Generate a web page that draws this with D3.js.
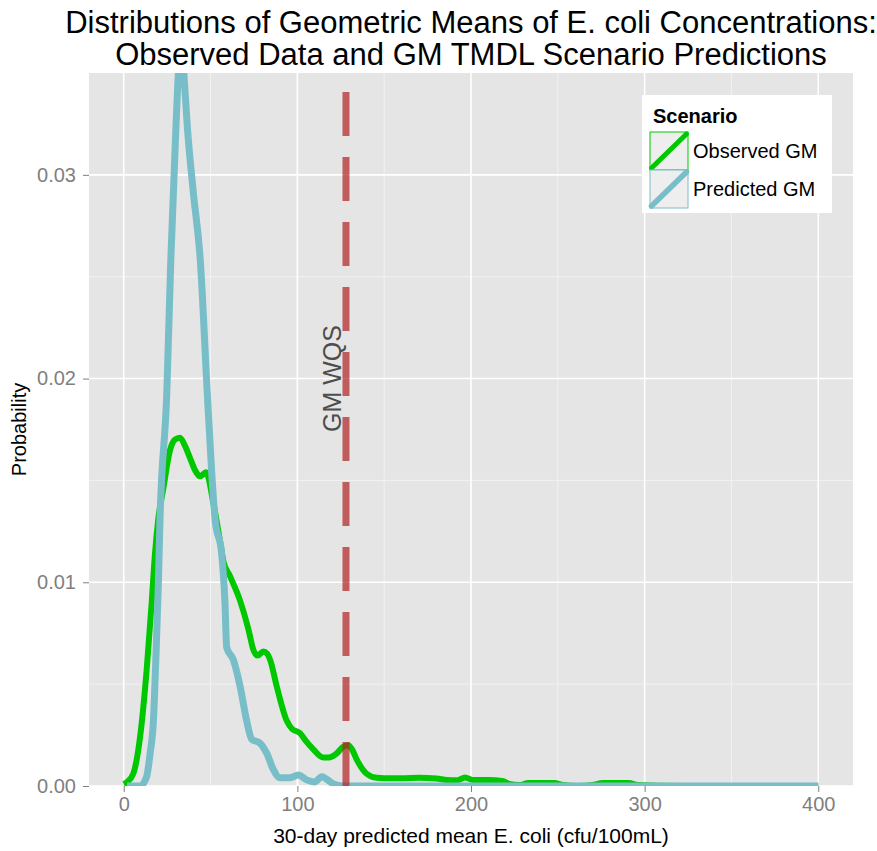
<!DOCTYPE html>
<html>
<head>
<meta charset="utf-8">
<script src="https://cdn.jsdelivr.net/npm/d3@7"></script>
<style>
  html, body { margin: 0; padding: 0; background: #ffffff; }
  svg { display: block; font-family: "Liberation Sans", Arial, Helvetica, sans-serif; }
</style>
</head>
<body>
<svg id="chart" width="877" height="851"></svg>
<script>
// ---- data -------------------------------------------------------------
const titleLines = [
  "Distributions of Geometric Means of E. coli Concentrations:",
  "Observed Data and GM TMDL Scenario Predictions"
];
const xLabel = "30-day predicted mean E. coli (cfu/100mL)";
const yLabel = "Probability";

const xTicks = [0, 100, 200, 300, 400];
const xMinor = [50, 150, 250, 350];
const yTicks = [0, 0.01, 0.02, 0.03];
const yMinor = [0.005, 0.015, 0.025];
const yTickLabels = ["0.00", "0.01", "0.02", "0.03"];

const seriesNames = ["Observed GM", "Predicted GM"];
const seriesColors = ["#00c800", "#78bec9"];

// Observed GM curve
const observedX = [0, 2, 5.5, 9.4, 13.2, 16.1, 18.0, 19.9, 22.8, 26.7, 29.5, 32.4, 35.3, 38.2,
  41.1, 43.9, 47.4, 51.6, 55.5, 57.5, 61.2, 67, 71.8, 74.6, 77, 80.4, 82.5, 84.3, 88.1, 93.9,
  97, 101.5, 105, 109.2, 114.9, 118, 122.7, 126, 129.3, 131.5, 134.2, 139.9, 145.7, 150, 160,
  170, 180, 186, 192, 196.6, 201, 210, 218, 222, 228, 233, 240, 248, 253, 262, 270, 276, 284,
  291, 296, 320, 400];
const observedY = [0.0001, 0.0002, 0.0006, 0.0024, 0.0057, 0.0090, 0.0114, 0.0131, 0.0146,
  0.0165, 0.0170, 0.0171, 0.0167, 0.0161, 0.0155, 0.0152, 0.0154, 0.0139, 0.0120, 0.0110,
  0.0103, 0.0091, 0.0077, 0.0067, 0.0064, 0.0066, 0.0065, 0.0062, 0.0049, 0.0032, 0.0028,
  0.0026, 0.0022, 0.0018, 0.0014, 0.0014, 0.0016, 0.0019, 0.0020, 0.0018, 0.0013, 0.0006,
  0.0004, 0.00038, 0.00038, 0.0004, 0.00037, 0.0003, 0.00028, 0.00042, 0.0003, 0.0003,
  0.00025, 0.0001, 0.00005, 0.00015, 0.00015, 0.00015, 0.00005, 0, 0.00005, 0.00015,
  0.00015, 0.00015, 0.00005, 0, 0];

// Predicted GM curve
const predictedX = [2, 9.5, 13.2, 15.2, 17.1, 18.6, 19.9, 20.9, 24.8, 27.1, 30.1, 31.5, 33.2,
  35, 36.6, 40, 44.1, 48.1, 50.7, 52.6, 56.4, 58.3, 59.3, 63.1, 67.0, 70.8, 73.7, 78.5, 82.4,
  86.2, 90, 95.8, 100.5, 105.3, 110, 114, 120.8, 126, 400];
const predictedY = [0, 0, 0.00046, 0.0016, 0.0032, 0.0065, 0.0098, 0.0131, 0.0193, 0.0258,
  0.0324, 0.0350, 0.0362, 0.0345, 0.0324, 0.0292, 0.0258, 0.0193, 0.01535, 0.0131, 0.0114,
  0.0090, 0.0068, 0.0062, 0.0049, 0.0032, 0.0023, 0.0021, 0.0016, 0.0008, 0.0004, 0.0004,
  0.00054, 0.0003, 0.0002, 0.00046, 0.0001, 0, 0];

// water quality standard marker
const wqsValue = 128;
const wqsLabel = "GM WQS";
const wqsLabelX = 120;
const wqsLabelY = 0.02;

// ---- layout -----------------------------------------------------------
const panel = { left: 89, right: 853, top: 73, bottom: 786 };
const svg = d3.select("#chart");

const x = d3.scaleLinear().domain([-20, 420]).range([panel.left, panel.right]);
const y = d3.scaleLinear().domain([0, 0.035]).range([panel.bottom, panel.top]);

// panel background
svg.append("rect")
  .attr("x", panel.left).attr("y", panel.top)
  .attr("width", panel.right - panel.left).attr("height", panel.bottom - panel.top)
  .attr("fill", "#e5e5e5");

svg.append("clipPath").attr("id", "panel-clip")
  .append("rect")
  .attr("x", panel.left).attr("y", panel.top)
  .attr("width", panel.right - panel.left).attr("height", panel.bottom - panel.top);

const grid = svg.append("g");
// minor grid
grid.selectAll(".vx-minor").data(xMinor).enter().append("line")
  .attr("x1", d => x(d)).attr("x2", d => x(d))
  .attr("y1", panel.top).attr("y2", panel.bottom)
  .attr("stroke", "#f2f2f2").attr("stroke-width", 1);
grid.selectAll(".hy-minor").data(yMinor).enter().append("line")
  .attr("y1", d => y(d)).attr("y2", d => y(d))
  .attr("x1", panel.left).attr("x2", panel.right)
  .attr("stroke", "#f2f2f2").attr("stroke-width", 1);
// major grid
grid.selectAll(".vx-major").data(xTicks).enter().append("line")
  .attr("x1", d => x(d)).attr("x2", d => x(d))
  .attr("y1", panel.top).attr("y2", panel.bottom)
  .attr("stroke", "#ffffff").attr("stroke-width", 1.6);
grid.selectAll(".hy-major").data(yTicks).enter().append("line")
  .attr("y1", d => y(d)).attr("y2", d => y(d))
  .attr("x1", panel.left).attr("x2", panel.right)
  .attr("stroke", "#ffffff").attr("stroke-width", 1.6);

// ---- curves -----------------------------------------------------------
const line = d3.line()
  .x(d => x(d[0]))
  .y(d => y(d[1]))
  .curve(d3.curveMonotoneX);

const plot = svg.append("g").attr("clip-path", "url(#panel-clip)");

const observed = observedX.map((v, i) => [v, observedY[i]]);
const predicted = predictedX.map((v, i) => [v, predictedY[i]]);

plot.append("path").datum(observed)
  .attr("d", line)
  .attr("fill", "none")
  .attr("stroke", seriesColors[0])
  .attr("stroke-width", 6)
  .attr("stroke-linejoin", "round");

plot.append("path").datum(predicted)
  .attr("d", line)
  .attr("fill", "none")
  .attr("stroke", seriesColors[1])
  .attr("stroke-width", 7)
  .attr("stroke-linejoin", "round");

// standard line, dashed from the bottom of the panel upward
plot.append("line")
  .attr("x1", x(wqsValue)).attr("x2", x(wqsValue))
  .attr("y1", y(0)).attr("y2", y(0.035))
  .attr("stroke", "#b22222")
  .attr("stroke-opacity", 0.7)
  .attr("stroke-width", 7)
  .attr("stroke-dasharray", "44,21");

svg.append("text")
  .attr("transform", `translate(${x(wqsLabelX)},${y(wqsLabelY)}) rotate(-90)`)
  .attr("text-anchor", "middle")
  .attr("dy", "0.36em")
  .attr("font-size", 25)
  .attr("fill", "#4d4d4d")
  .text(wqsLabel);

// ---- axes -------------------------------------------------------------
const xAxis = svg.append("g").attr("transform", `translate(0,${panel.bottom})`)
  .call(d3.axisBottom(x).tickValues(xTicks).tickFormat(d3.format("d")).tickSize(6).tickPadding(5));
const yAxis = svg.append("g").attr("transform", `translate(${panel.left},0)`)
  .call(d3.axisLeft(y).tickValues(yTicks).tickFormat((d, i) => yTickLabels[i]).tickSize(6).tickPadding(7));

[xAxis, yAxis].forEach(a => {
  a.select(".domain").remove();
  a.selectAll(".tick line").attr("stroke", "#7f7f7f").attr("stroke-width", 1);
  a.selectAll(".tick text")
    .attr("fill", "#7f7f7f")
    .attr("font-size", 20)
    .attr("font-family", "Liberation Sans, Arial, sans-serif");
});

// axis titles
svg.append("text")
  .attr("x", (panel.left + panel.right) / 2).attr("y", 843)
  .attr("text-anchor", "middle")
  .attr("font-size", 21)
  .attr("fill", "#000")
  .text(xLabel);

svg.append("text")
  .attr("transform", `translate(26,${(panel.top + panel.bottom) / 2}) rotate(-90)`)
  .attr("text-anchor", "middle")
  .attr("font-size", 20)
  .attr("fill", "#000")
  .text(yLabel);

// title
svg.append("g").selectAll("text").data(titleLines).enter().append("text")
  .attr("x", (panel.left + panel.right) / 2)
  .attr("y", (d, i) => 33 + i * 32)
  .attr("text-anchor", "middle")
  .attr("font-size", 31)
  .attr("fill", "#000")
  .text(d => d);

// ---- legend -----------------------------------------------------------
const legend = svg.append("g").attr("transform", "translate(642,95)");
legend.append("rect")
  .attr("width", 190).attr("height", 118)
  .attr("fill", "#ffffff");
legend.append("text")
  .attr("x", 11).attr("y", 28)
  .attr("font-size", 20).attr("font-weight", "bold")
  .text("Scenario");

const keySize = 38;
const keys = legend.selectAll(".key").data(seriesNames).enter().append("g")
  .attr("transform", (d, i) => `translate(8,${37 + i * keySize})`);
keys.append("rect")
  .attr("x", 0).attr("y", 0).attr("width", keySize).attr("height", keySize)
  .attr("fill", "#eeeeee")
  .attr("stroke", (d, i) => seriesColors[i])
  .attr("stroke-width", 1);
keys.append("line")
  .attr("x1", 1.5).attr("y1", keySize - 2)
  .attr("x2", keySize - 1.5).attr("y2", 2)
  .attr("stroke", (d, i) => seriesColors[i])
  .attr("stroke-width", (d, i) => i === 0 ? 5 : 5.5)
  .attr("stroke-linecap", "round");
keys.append("text")
  .attr("x", keySize + 5).attr("y", keySize / 2)
  .attr("dy", "0.36em")
  .attr("font-size", 20)
  .text(d => d);
</script>
</body>
</html>
